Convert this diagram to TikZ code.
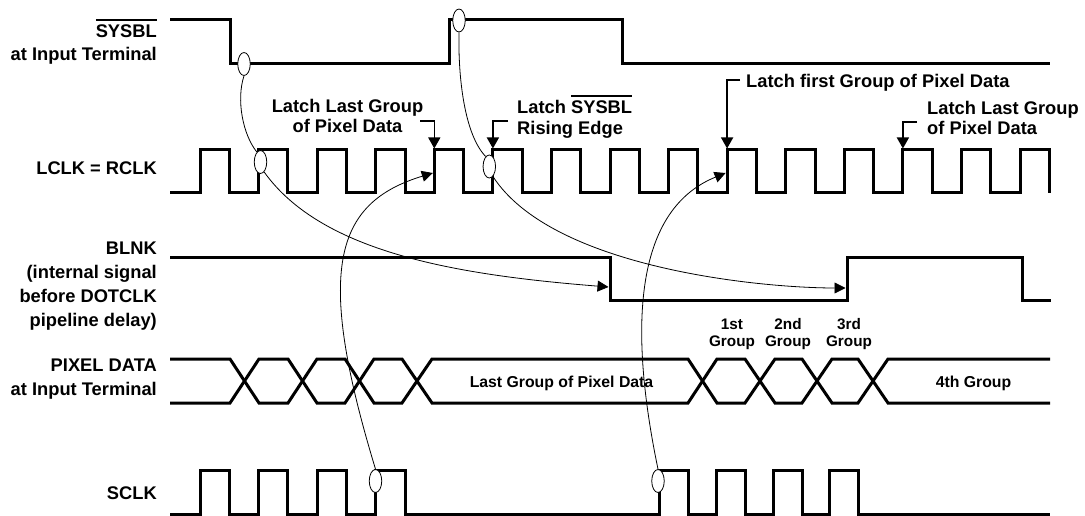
\documentclass[tikz,border=0pt]{standalone}
\usepackage{fontspec}
\setmainfont{Liberation Sans}
\usetikzlibrary{arrows.meta,shapes.geometric}
\newcommand{\ovl}[1]{\setbox0=\hbox{#1}\rlap{\rule[\dimexpr\ht0+4.5pt\relax]{\wd0}{2pt}}\box0}
\begin{document}
\begin{tikzpicture}[x=1pt,y=-1pt,
  sig/.style={line width=3pt},
  conn/.style={line width=0.8pt},
  tiparrow/.style={-{Triangle[length=11pt,width=11pt]}},
  latch/.style={line width=1.4pt,-{Triangle[length=11pt,width=12pt]}},
  oval/.style={ellipse,draw,line width=0.8pt,fill=white,minimum width=12.5pt,minimum height=23pt,inner sep=0pt},
  lbl/.style={font=\fontsize{18.3}{22}\selectfont\bfseries,inner sep=0pt},
  dlbl/.style={font=\fontsize{15.8}{19}\selectfont\bfseries,inner sep=0pt},
  glbl/.style={font=\fontsize{15.3}{18}\selectfont\bfseries,inner sep=0pt}]
\useasboundingbox (0,0) rectangle (1085,516);

% ---------------- signals ----------------
% SYSBL
\draw[sig] (170,20) -- (230,20) -- (230,64) -- (449,64) -- (449,20) -- (622,20) -- (622,64) -- (1050,64);
% LCLK
\draw[sig] (170,193) \foreach \k in {0,...,14} { -- ({200+\k*58.571},193) -- ({200+\k*58.571},150) -- ({229.29+\k*58.571},150) -- ({229.29+\k*58.571},193) };
% BLNK
\draw[sig] (170,257) -- (610,257) -- (610,300) -- (847,300) -- (847,257) -- (1022,257) -- (1022,300) -- (1051,300);
% PIXEL DATA
\draw[sig] (170,359) -- (230,359) -- (259,403) -- (288,403) -- (317,359) -- (345,359) -- (374,403) -- (402,403) -- (432,359)
  -- (688,359) -- (717,403) -- (745,403) -- (775,359) -- (802,359) -- (832,403) -- (858,403) -- (888,359) -- (1050,359);
\draw[sig] (170,403) -- (230,403) -- (259,359) -- (288,359) -- (317,403) -- (345,403) -- (374,359) -- (402,359) -- (432,403)
  -- (688,403) -- (717,359) -- (745,359) -- (775,403) -- (802,403) -- (832,359) -- (858,359) -- (888,403) -- (1050,403);
% SCLK
\draw[sig] (170,514) \foreach \r in {200,258.57,317.14,375.71} { -- (\r,514) -- (\r,470) -- ({\r+29.29},470) -- ({\r+29.29},514) }
  \foreach \r in {659,716,773,829} { -- (\r,514) -- (\r,470) -- ({\r+29},470) -- ({\r+29},514) } -- (1050,514);

% ---------------- labels ----------------
\node[lbl,anchor=base east] (tSys) at (157,38) {\ovl{SYSBL}};
\node[lbl,anchor=base east] (tSys2) at (157,61) {at Input Terminal};
\node[lbl,anchor=base east] (tLclk) at (157,175) {LCLK = RCLK};
\node[lbl,anchor=base east] (tBlnk) at (157,254) {BLNK};
\node[lbl,anchor=base east] (tBlnk2) at (157,278) {(internal signal};
\node[lbl,anchor=base east] (tBlnk3) at (157,302) {before DOTCLK};
\node[lbl,anchor=base east] (tBlnk4) at (157,326) {pipeline delay)};
\node[lbl,anchor=base east] (tPix) at (157,371) {PIXEL DATA};
\node[lbl,anchor=base east] (tPix2) at (157,395) {at Input Terminal};
\node[lbl,anchor=base east] (tSclk) at (157,499) {SCLK};

\node[lbl,anchor=base] (la1) at (347.5,113) {Latch Last Group};
\node[lbl,anchor=base] (la2) at (347.5,133) {of Pixel Data};
\node[lbl,anchor=base west] (lb1) at (517,114) {Latch \ovl{SYSBL}};
\node[lbl,anchor=base west] (lb2) at (517,135) {Rising Edge};
\node[lbl,anchor=base west] (lc1) at (746,88) {Latch first Group of Pixel Data};
\node[lbl,anchor=base west] (ld1) at (927,115) {Latch Last Group};
\node[lbl,anchor=base west] (ld2) at (927,135) {of Pixel Data};

\node[dlbl,anchor=base] (pLast) at (561.5,387) {Last Group of Pixel Data};
\node[dlbl,anchor=base] (p4) at (973.5,387) {4th Group};
\node[glbl,anchor=base] (g1a) at (732,329) {1st};
\node[glbl,anchor=base] (g1b) at (732,346) {Group};
\node[glbl,anchor=base] (g2a) at (788,329) {2nd};
\node[glbl,anchor=base] (g2b) at (788,346) {Group};
\node[glbl,anchor=base] (g3a) at (849,329) {3rd};
\node[glbl,anchor=base] (g3b) at (849,346) {Group};

% ---------------- latch arrows ----------------
\coordinate (L1s) at (420,121);   \coordinate (L1c) at (434.3,121);  \coordinate (L1t) at (434.3,148.5);
\coordinate (L2s) at (508,121);   \coordinate (L2c) at (492.9,121);  \coordinate (L2t) at (492.9,148.5);
\coordinate (L3s) at (740,80);    \coordinate (L3c) at (727.1,80);   \coordinate (L3t) at (727.1,148.5);
\coordinate (L4s) at (917,122);   \coordinate (L4c) at (902.9,122);  \coordinate (L4t) at (902.9,148.5);
\draw[latch] (L1s) -- (L1c) -- (L1t);
\draw[latch] (L2s) -- (L2c) -- (L2t);
\draw[latch] (L3s) -- (L3c) -- (L3t);
\draw[latch] (L4s) -- (L4c) -- (L4t);

% ---------------- ovals ----------------
\node[oval] (eS1) at (244,64) {};
\node[oval] (eS2) at (459,20.5) {};
\node[oval] (eL1) at (260.5,162) {};
\node[oval] (eL2) at (489.3,166.5) {};
\node[oval] (eC1) at (375.5,481) {};
\node[oval] (eC2) at (658,481) {};

% arrow targets
\coordinate (tBfall) at (608.5,287);
\coordinate (tBrise) at (845.5,288);
\coordinate (tLa) at (432.8,173);
\coordinate (tLb) at (725.6,173);

% ---------------- connectors ----------------
\draw[conn] (eS1.south) .. controls (236,100) and (243,135) .. (eL1.110);
\draw[conn,tiparrow] (eL1.-70) .. controls (322,253) and (458,275) .. (tBfall);
\draw[conn] (eS2.south) .. controls (458,80) and (465,135) .. (eL2.110);
\draw[conn,tiparrow] (eL2.-70) .. controls (552,268) and (760,288) .. (tBrise);
\draw[conn,tiparrow] (eC1.north) .. controls (315,270) and (334,203) .. (tLa);
\draw[conn,tiparrow] (eC2.north) .. controls (627,320) and (637,209) .. (tLb);
\end{tikzpicture}
\end{document}
